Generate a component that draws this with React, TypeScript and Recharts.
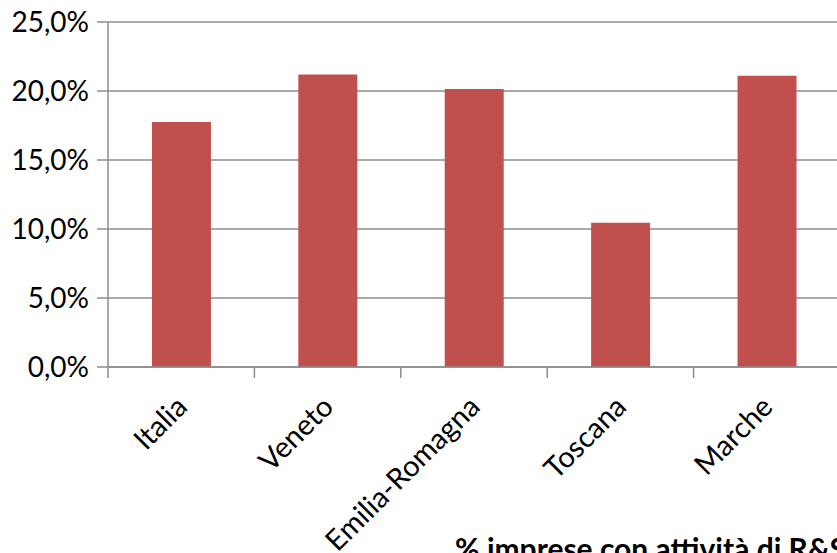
import React from "react";
import { BarChart, Bar, CartesianGrid, XAxis, YAxis } from "recharts";

const regions = ["Italia", "Veneto", "Emilia-Romagna", "Toscana", "Marche"];
const shares = [17.75, 21.2, 20.15, 10.45, 21.1];
const yTicks = [0, 5, 10, 15, 20, 25];
const seriesName = "% imprese con attività di R&S";

const data = regions.map((region, i) => ({ region, value: shares[i] }));

const font = "Lato, 'Open Sans', sans-serif";
const gray = "#8c8c8c";
const TICK_SIZE = 11;
const TICK_MARGIN = 16;

const fmt = (v: number) => v.toFixed(1).replace(".", ",") + "%";

// category label plus a tick mark on the left edge of its band (Excel style)
const CategoryTick = (props: any) => {
  const { x, y, payload } = props;
  const half = payload.offset || 0;
  const axisY = y - TICK_SIZE - TICK_MARGIN;
  const tx = x + 2;
  const ty = y + 9;
  return (
    <g>
      <line
        x1={x - half}
        x2={x - half}
        y1={axisY}
        y2={axisY + TICK_SIZE}
        stroke={gray}
        strokeWidth={1.5}
      />
      <text
        x={tx}
        y={ty}
        dy={8}
        transform={`rotate(-45, ${tx}, ${ty})`}
        textAnchor="end"
        fill="#000"
        fontSize={29}
        fontFamily={font}
      >
        {payload.value}
      </text>
    </g>
  );
};

const App = () => {
  return (
    <div
      style={{
        position: "absolute",
        left: 0,
        top: 0,
        width: 837,
        height: 553,
        overflow: "hidden",
        background: "#fff",
      }}
    >
      <BarChart
        width={870}
        height={553}
        data={data}
        margin={{ top: 22, right: 30, left: 0, bottom: 0 }}
        barCategoryGap="30%"
      >
        <CartesianGrid vertical={false} stroke={gray} strokeWidth={1.5} />
        <XAxis
          dataKey="region"
          height={186}
          stroke={gray}
          strokeWidth={1.5}
          tickSize={TICK_SIZE}
          tickMargin={TICK_MARGIN}
          tickLine={false}
          interval={0}
          tick={<CategoryTick />}
        />
        <YAxis
          width={108}
          domain={[0, 25]}
          ticks={yTicks}
          tickFormatter={fmt}
          stroke={gray}
          strokeWidth={1.5}
          tickSize={11}
          tickMargin={8}
          tick={{ fill: "#000", fontSize: 28, fontFamily: font }}
          interval={0}
        />
        <Bar dataKey="value" fill="#C0504D" isAnimationActive={false} />
      </BarChart>
      <div
        style={{
          position: "absolute",
          left: 455,
          top: 533,
          fontFamily: font,
          fontWeight: "bold",
          fontSize: 30,
          lineHeight: "30px",
          whiteSpace: "nowrap",
          color: "#000",
        }}
      >
        {seriesName}
      </div>
    </div>
  );
};

export default App;
